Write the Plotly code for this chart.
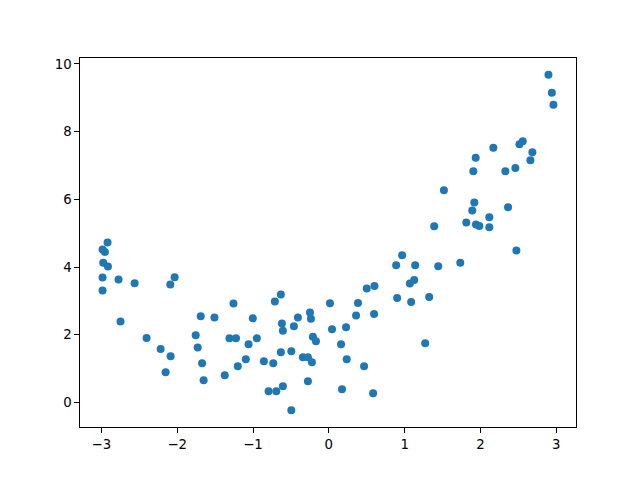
import plotly.graph_objects as go

x_values = [
    -2.919, -2.985, -2.954, -2.976, -2.914, -2.985, -2.774, -2.562, -2.034, -2.091,
    -2.985, -2.748, -1.258, -1.690, -1.509, -2.404, -1.756, -1.311, -1.225, -2.219,
    -1.730, -2.087, -1.059, -1.095, -1.672, -1.201, -2.153, -1.373, -1.652, -0.633,
    -0.712, 0.015, -1.003, -0.249, -0.236, -0.408, -0.619, -0.461, -0.606, 0.042,
    0.227, -0.950, -0.210, -0.170, 0.161, -0.633, -0.495, -0.857, -0.733, -0.342,
    -0.276, -0.223, 0.236, -0.276, -0.606, -0.795, -0.693, 0.174, -0.495, 0.967,
    0.888, 1.139, 1.443, 1.734, 0.602, 0.500, 1.126, 1.069, 0.385, 0.901,
    1.086, 1.324, 0.359, 0.597, 1.271, 0.465, 0.584, 2.897, 2.942, 2.963,
    2.170, 2.558, 2.514, 2.685, 2.659, 1.937, 1.906, 2.329, 2.461, 1.518,
    1.919, 1.892, 2.117, 2.364, 1.813, 1.941, 1.985, 2.117, 1.390, 2.474,
]
y_values = [
    4.726, 4.519, 4.448, 4.124, 4.018, 3.693, 3.634, 3.525, 3.702, 3.487,
    3.310, 2.395, 2.926, 2.543, 2.513, 1.903, 1.982, 1.894, 1.894, 1.578,
    1.622, 1.363, 1.717, 1.274, 1.156, 1.068, 0.891, 0.805, 0.655, 3.192,
    2.985, 2.929, 2.484, 2.661, 2.472, 2.513, 2.336, 2.248, 2.118, 2.162,
    2.218, 1.894, 1.941, 1.805, 1.717, 1.481, 1.510, 1.215, 1.156, 1.333,
    1.333, 1.186, 1.274, 0.625, 0.478, 0.330, 0.330, 0.392, -0.230, 4.351,
    4.056, 4.056, 4.027, 4.130, 3.437, 3.369, 3.614, 3.516, 2.935, 3.083,
    2.965, 3.112, 2.572, 2.611, 1.746, 1.068, 0.271, 9.681, 9.150, 8.796,
    7.528, 7.714, 7.625, 7.389, 7.153, 7.233, 6.829, 6.829, 6.926, 6.268,
    5.906, 5.670, 5.472, 5.767, 5.316, 5.257, 5.215, 5.177, 5.207, 4.490,
]
x_ticks = [-3, -2, -1, 0, 1, 2, 3]
y_ticks = [0, 2, 4, 6, 8, 10]

# matplotlib-style 5% auto margins
xmin, xmax = min(x_values), max(x_values)
ymin, ymax = min(y_values), max(y_values)
xpad = 0.05 * (xmax - xmin)
ypad = 0.05 * (ymax - ymin)

fig = go.Figure(
    go.Scatter(
        x=x_values,
        y=y_values,
        mode="markers",
        marker=dict(color="#1f77b4", size=8, line=dict(width=0)),
        showlegend=False,
    )
)

axis_common = dict(
    showgrid=False,
    zeroline=False,
    showline=True,
    linecolor="black",
    linewidth=1,
    mirror=True,
    ticks="outside",
    ticklen=4.7,
    tickwidth=1,
    tickcolor="black",
    tickfont=dict(family="DejaVu Sans", size=13.3, color="black"),
)

fig.update_xaxes(range=[xmin - xpad, xmax + xpad], tickvals=x_ticks,
                 ticktext=[str(t).replace("-", "\u2212") for t in x_ticks], **axis_common)
fig.update_yaxes(range=[ymin - ypad, ymax + ypad], tickvals=y_ticks,
                 ticktext=[str(t) for t in y_ticks], **axis_common)

# page body has an 8px margin; size the figure so the plot area lands where
# matplotlib's default axes box is (x 80..576, y 58..427 in the 640x480 window)
fig.update_layout(
    width=632,
    height=472,
    margin=dict(l=72, r=64, t=50, b=53),
    paper_bgcolor="white",
    plot_bgcolor="white",
)

fig.write_html("out.html")
